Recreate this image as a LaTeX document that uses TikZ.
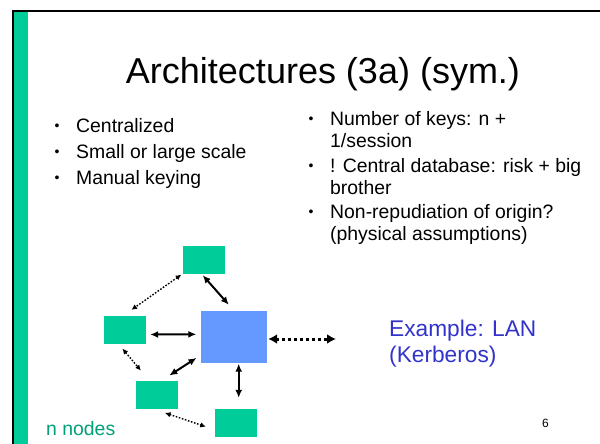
\documentclass[tikz,border=0pt]{standalone}
\usepackage{fontspec}
\setmainfont{Liberation Sans}
\usetikzlibrary{arrows.meta}
\definecolor{slidegreen}{RGB}{0,204,153}
\definecolor{hubblue}{RGB}{102,153,255}
\definecolor{examplecol}{RGB}{51,51,204}
\definecolor{notecol}{RGB}{0,160,120}
\begin{document}
\begin{tikzpicture}[x=1pt,y=-1pt,
  txt/.style={inner sep=0pt, anchor=base west, font=\fontsize{19.4}{23}\selectfont},
  dot/.style={inner sep=0pt, anchor=base, yshift=2pt, font=\fontsize{14}{16}\selectfont},
  box/.style={fill=slidegreen, minimum width=42pt, minimum height=28pt, inner sep=0pt},
  hubbox/.style={fill=hubblue, minimum width=66pt, minimum height=52pt, inner sep=0pt},
  link/.style={line width=2pt, {Latex[length=8pt,width=7pt]}-{Latex[length=8pt,width=7pt]}},
  weaklink/.style={line width=1.4pt, dash pattern=on 1.6pt off 1.6pt,
    {Latex[length=5.5pt,width=5.5pt]}-{Latex[length=5.5pt,width=5.5pt]}},
  lanlink/.style={line width=3pt, dash pattern=on 3pt off 3pt,
    {Latex[length=9pt,width=10pt]}-{Latex[length=9pt,width=10pt]}}
]
\useasboundingbox (0,0) rectangle (600,444);
\fill[white] (0,0) rectangle (600,444);

% slide frame: green side bar with black edge and top rule
\fill[slidegreen] (13.5,11) rectangle (27.7,444);
\draw[line width=1.6pt] (13,444) -- (13,11) -- (600,11);

% title
\node[inner sep=0pt, anchor=base, font=\fontsize{36}{40}\selectfont] (title) at (323,84) {Architectures (3a) (sym.)};

% left bullet list
\node[dot] (lb1) at (57,132) {•};
\node[txt] (lt1) at (76,132) {Centralized};
\node[dot] (lb2) at (57,158) {•};
\node[txt] (lt2) at (76,158) {Small or large scale};
\node[dot] (lb3) at (57,184) {•};
\node[txt] (lt3) at (76,184) {Manual keying};

% right bullet list
\node[dot] (rb1) at (311,125) {•};
\node[txt] (rt1a) at (330,125) {Number of keys: n +};
\node[txt] (rt1b) at (330,147) {1/session};
\node[dot] (rb2) at (311,172) {•};
\node[txt] (rt2a) at (330,172) {! Central database: risk + big};
\node[txt] (rt2b) at (330,194) {brother};
\node[dot] (rb3) at (311,218) {•};
\node[txt] (rt3a) at (330,218) {Non-repudiation of origin?};
\node[txt] (rt3b) at (330,240) {(physical assumptions)};

% key distribution centre and its clients
\node[hubbox] (hub) at (234,337) {};
\node[box] (top) at (203.5,259.5) {};
\node[box] (left) at (124.5,329.5) {};
\node[box] (low) at (157,394.7) {};
\node[box] (bot) at (236,423) {};
\coordinate (lan) at (336,339);

\draw[link] ([shift={(-0.8,1.5)}]top.south) -- ([shift={(28,-6)}]hub.north west);
\draw[link] ([shift={(4.5,5)}]left.east) -- ([shift={(-4.5,-2.7)}]hub.west);
\draw[link] ([shift={(12.3,-5)}]low.north) -- ([shift={(-4.3,-5.3)}]hub.south west);
\draw[link] ([shift={(4.7,0.5)}]hub.south) -- ([shift={(2.7,-11)}]bot.north);
\draw[weaklink] ([shift={(-1,1)}]top.south west) -- ([shift={(7,-5.5)}]left.north);
\draw[weaklink] ([shift={(-2,5)}]left.south) -- ([shift={(5,-10)}]low.north west);
\draw[weaklink] ([shift={(8,4)}]low.south) -- ([shift={(-9,3.7)}]bot.west);
\draw[lanlink] ([shift={(1,2)}]hub.east) -- (lan);

% example and footer texts
\node[inner sep=0pt, anchor=base west, text=examplecol, font=\fontsize{22.7}{26}\selectfont] (ex1) at (389,336.5) {Example: LAN};
\node[inner sep=0pt, anchor=base west, text=examplecol, font=\fontsize{22.7}{26}\selectfont] (ex2) at (389,362) {(Kerberos)};
\node[inner sep=0pt, anchor=base west, text=notecol, font=\fontsize{19.4}{23}\selectfont] (nn) at (46,435) {n nodes};
\node[inner sep=0pt, anchor=base, font=\fontsize{12}{14}\selectfont] (pg) at (545.5,427) {6};
\end{tikzpicture}
\end{document}
